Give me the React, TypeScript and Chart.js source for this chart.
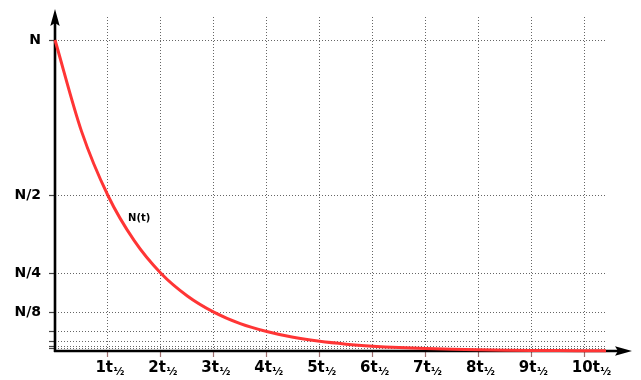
import React, { useEffect, useRef } from "react";
import { Chart, registerables } from "chart.js";

Chart.register(...registerables);

// Decay curve (time in half-lives, amount as fraction of N)
const tValues = [0, 0.5, 1, 1.5, 2, 2.5, 3, 3.5, 4, 4.5, 5, 5.5, 6, 6.5, 7, 7.5, 8, 8.5, 9, 9.5, 10, 10.41];
const nValues = [1, 0.707, 0.5, 0.354, 0.25, 0.177, 0.125, 0.088, 0.0625, 0.044, 0.031, 0.022, 0.0156, 0.011, 0.0078, 0.0055, 0.0039, 0.0028, 0.002, 0.0014, 0.001, 0.0007];

const xTickValues = [1, 2, 3, 4, 5, 6, 7, 8, 9, 10];
const xTickMain = ["1t", "2t", "3t", "4t", "5t", "6t", "7t", "8t", "9t", "10t"];
const xTickSub = "½";

const yTickValues = [1, 0.5, 0.25, 0.125, 0.0625, 0.03125, 0.015625, 0.0078125];
const yTickLabels = ["N", "N/2", "N/4", "N/8", "", "", "", ""];

const curveLabel = "N(t)";

const FONT = "'DejaVu Sans', sans-serif";

export default function App() {
  const ref = useRef<HTMLCanvasElement | null>(null);

  useEffect(() => {
    if (!ref.current) return;

    const axesPlugin = {
      id: "axesArrows",
      beforeDatasetsDraw(chart: any) {
        const { ctx, chartArea } = chart;
        const x0 = chartArea.left;
        const y0 = chartArea.bottom;
        ctx.save();
        ctx.strokeStyle = "#000";
        ctx.fillStyle = "#000";
        ctx.lineWidth = 2.6;
        ctx.setLineDash([]);
        // y axis
        ctx.beginPath();
        ctx.moveTo(x0, y0 + 1);
        ctx.lineTo(x0, 22);
        ctx.stroke();
        ctx.beginPath();
        ctx.moveTo(x0, 9);
        ctx.lineTo(x0 + 4.7, 26);
        ctx.lineTo(x0, 23);
        ctx.lineTo(x0 - 4.7, 26);
        ctx.closePath();
        ctx.fill();
        // x axis
        ctx.beginPath();
        ctx.moveTo(x0 - 1, y0);
        ctx.lineTo(620, y0);
        ctx.stroke();
        ctx.beginPath();
        ctx.moveTo(632, y0);
        ctx.lineTo(615, y0 - 4.7);
        ctx.lineTo(618, y0);
        ctx.lineTo(615, y0 + 4.7);
        ctx.closePath();
        ctx.fill();
        ctx.restore();
      },
      afterDatasetsDraw(chart: any) {
        const { ctx } = chart;
        const xs = chart.scales.x;
        const ys = chart.scales.y;
        ctx.save();
        ctx.fillStyle = "#000";
        ctx.textBaseline = "alphabetic";
        ctx.textAlign = "left";
        xTickValues.forEach((v, i) => {
          const px = xs.getPixelForValue(v);
          const left = px - 12.5;
          ctx.font = `bold 15px ${FONT}`;
          ctx.fillText(xTickMain[i], left, 372);
          const w = ctx.measureText(xTickMain[i]).width;
          ctx.font = `bold 10.5px ${FONT}`;
          ctx.fillText(xTickSub, left + w + 0.5, 374.5);
        });
        ctx.font = `bold 10px ${FONT}`;
        ctx.fillText(curveLabel, xs.getPixelForValue(1.38), ys.getPixelForValue(0.418));
        ctx.restore();
      },
    };

    const chart = new Chart(ref.current, {
      type: "line",
      data: {
        datasets: [
          {
            data: tValues.map((t, i) => ({ x: t, y: nValues[i] })),
            borderColor: "#ff3535",
            borderWidth: 3,
            pointRadius: 0,
            cubicInterpolationMode: "monotone",
            fill: false,
            clip: 6,
          } as any,
        ],
      },
      options: {
        animation: false,
        responsive: true,
        maintainAspectRatio: false,
        layout: { padding: { top: 17, right: 35, left: 0, bottom: 0 } },
        plugins: { legend: { display: false }, tooltip: { enabled: false } },
        scales: {
          x: {
            type: "linear",
            min: 0,
            max: 10.41,
            afterBuildTicks: (scale: any) => {
              scale.ticks = xTickValues.map((v) => ({ value: v }));
            },
            afterFit: (scale: any) => {
              scale.height = 29;
            },
            ticks: { display: false },
            grid: {
              color: "#666",
              lineWidth: 1,
              drawTicks: true,
              tickLength: 6,
              tickColor: "#a07070",
              tickWidth: 1.2,
              tickBorderDash: [],
            } as any,
            border: { display: false, dash: [1, 2] },
          },
          y: {
            type: "linear",
            min: 0,
            max: 1.074,
            afterBuildTicks: (scale: any) => {
              scale.ticks = yTickValues.map((v) => ({ value: v }));
            },
            afterFit: (scale: any) => {
              scale.width = 55;
            },
            ticks: {
              autoSkip: false,
              padding: 8,
              color: "#000",
              font: { family: FONT, size: 14, weight: "bold" },
              callback: (_v: any, i: number) => yTickLabels[i],
            },
            grid: {
              color: "#666",
              lineWidth: 1,
              drawTicks: true,
              tickLength: 6,
              tickColor: "#444",
              tickWidth: 1.2,
              tickBorderDash: [],
            } as any,
            border: { display: false, dash: [1, 2] },
          },
        },
      },
      plugins: [axesPlugin],
    });

    return () => chart.destroy();
  }, []);

  return (
    <div style={{ position: "fixed", left: 0, top: 0, width: 641, height: 380, background: "#fff" }}>
      <canvas ref={ref} />
    </div>
  );
}
